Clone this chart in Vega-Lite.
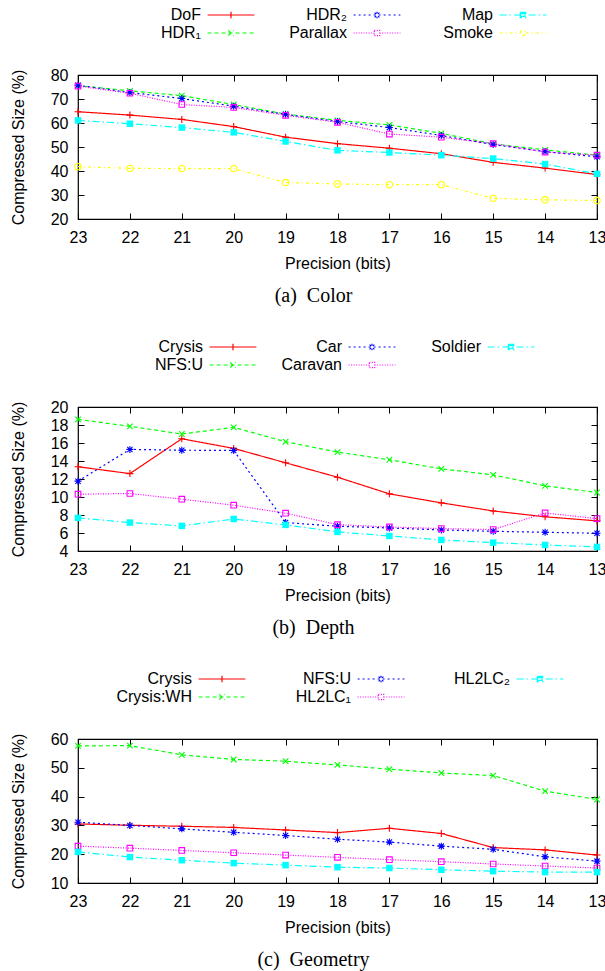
{
"$schema": "https://vega.github.io/schema/vega-lite/v6.json",
"padding": {"left": 9, "top": 6, "right": 0, "bottom": 0},
"background": "white",
"config": {
  "font": "Liberation Sans",
  "view": {"stroke": "black", "strokeWidth": 1.2},
  "axis": {"labelFont": "Liberation Sans", "labelFontSize": 16, "labelColor": "black", "titleFont": "Liberation Sans", "titleFontSize": 16, "titleFontWeight": "normal", "titleColor": "black", "tickColor": "black", "tickSize": -6, "tickWidth": 1, "domain": false, "grid": false, "labelFlush": false},
  "legend": {"labelFont": "Liberation Sans", "labelFontSize": 16, "labelColor": "black", "labelLimit": 0, "title": null, "orient": "none", "legendY": -68, "columns": 3, "gridAlign": "all", "rowPadding": 2, "padding": 0, "labelAlign": "right", "labelBaseline": "middle", "labelOffset": -38, "symbolSize": 36, "symbolStrokeWidth": 1.2, "symbolFillColor": "transparent", "symbolOpacity": 1},
  "title": {"font": "Liberation Serif", "fontSize": 20, "fontWeight": "normal", "color": "black"}
},
"datasets": {
"a": [
{"series":"DoF","bits":23,"size":64.7},{"series":"DoF","bits":22,"size":63.3},{"series":"DoF","bits":21,"size":61.5},{"series":"DoF","bits":20,"size":58.5},{"series":"DoF","bits":19,"size":54.1},{"series":"DoF","bits":18,"size":51.4},{"series":"DoF","bits":17,"size":49.5},{"series":"DoF","bits":16,"size":47.2},{"series":"DoF","bits":15,"size":43.6},{"series":"DoF","bits":14,"size":41.2},{"series":"DoF","bits":13,"size":38.5},
{"series":"HDR₁","bits":23,"size":75.6},{"series":"HDR₁","bits":22,"size":73.4},{"series":"HDR₁","bits":21,"size":71.4},{"series":"HDR₁","bits":20,"size":67.7},{"series":"HDR₁","bits":19,"size":63.7},{"series":"HDR₁","bits":18,"size":61.1},{"series":"HDR₁","bits":17,"size":59.2},{"series":"HDR₁","bits":16,"size":55.7},{"series":"HDR₁","bits":15,"size":51.3},{"series":"HDR₁","bits":14,"size":48.8},{"series":"HDR₁","bits":13,"size":46.6},
{"series":"HDR₂","bits":23,"size":75.7},{"series":"HDR₂","bits":22,"size":72.7},{"series":"HDR₂","bits":21,"size":70.2},{"series":"HDR₂","bits":20,"size":67.0},{"series":"HDR₂","bits":19,"size":63.6},{"series":"HDR₂","bits":18,"size":60.6},{"series":"HDR₂","bits":17,"size":58.1},{"series":"HDR₂","bits":16,"size":54.8},{"series":"HDR₂","bits":15,"size":51.0},{"series":"HDR₂","bits":14,"size":48.1},{"series":"HDR₂","bits":13,"size":45.9},
{"series":"Parallax","bits":23,"size":75.4},{"series":"Parallax","bits":22,"size":72.4},{"series":"Parallax","bits":21,"size":67.7},{"series":"Parallax","bits":20,"size":66.5},{"series":"Parallax","bits":19,"size":63.2},{"series":"Parallax","bits":18,"size":60.3},{"series":"Parallax","bits":17,"size":55.4},{"series":"Parallax","bits":16,"size":54.1},{"series":"Parallax","bits":15,"size":51.4},{"series":"Parallax","bits":14,"size":47.9},{"series":"Parallax","bits":13,"size":46.6},
{"series":"Map","bits":23,"size":61.1},{"series":"Map","bits":22,"size":59.7},{"series":"Map","bits":21,"size":58.1},{"series":"Map","bits":20,"size":56.1},{"series":"Map","bits":19,"size":52.3},{"series":"Map","bits":18,"size":48.6},{"series":"Map","bits":17,"size":47.7},{"series":"Map","bits":16,"size":46.6},{"series":"Map","bits":15,"size":45.2},{"series":"Map","bits":14,"size":42.9},{"series":"Map","bits":13,"size":38.8},
{"series":"Smoke","bits":23,"size":41.8},{"series":"Smoke","bits":22,"size":41.1},{"series":"Smoke","bits":21,"size":41.0},{"series":"Smoke","bits":20,"size":41.0},{"series":"Smoke","bits":19,"size":35.2},{"series":"Smoke","bits":18,"size":34.6},{"series":"Smoke","bits":17,"size":34.3},{"series":"Smoke","bits":16,"size":34.3},{"series":"Smoke","bits":15,"size":28.6},{"series":"Smoke","bits":14,"size":28.0},{"series":"Smoke","bits":13,"size":27.7}
],
"b": [
{"series":"Crysis","bits":23,"size":13.36},{"series":"Crysis","bits":22,"size":12.6},{"series":"Crysis","bits":21,"size":16.47},{"series":"Crysis","bits":20,"size":15.4},{"series":"Crysis","bits":19,"size":13.8},{"series":"Crysis","bits":18,"size":12.2},{"series":"Crysis","bits":17,"size":10.35},{"series":"Crysis","bits":16,"size":9.35},{"series":"Crysis","bits":15,"size":8.45},{"series":"Crysis","bits":14,"size":7.8},{"series":"Crysis","bits":13,"size":7.35},
{"series":"NFS:U","bits":23,"size":18.63},{"series":"NFS:U","bits":22,"size":17.85},{"series":"NFS:U","bits":21,"size":17.0},{"series":"NFS:U","bits":20,"size":17.74},{"series":"NFS:U","bits":19,"size":16.14},{"series":"NFS:U","bits":18,"size":14.99},{"series":"NFS:U","bits":17,"size":14.14},{"series":"NFS:U","bits":16,"size":13.13},{"series":"NFS:U","bits":15,"size":12.46},{"series":"NFS:U","bits":14,"size":11.24},{"series":"NFS:U","bits":13,"size":10.5},
{"series":"Car","bits":23,"size":11.76},{"series":"Car","bits":22,"size":15.29},{"series":"Car","bits":21,"size":15.2},{"series":"Car","bits":20,"size":15.17},{"series":"Car","bits":19,"size":7.16},{"series":"Car","bits":18,"size":6.75},{"series":"Car","bits":17,"size":6.56},{"series":"Car","bits":16,"size":6.34},{"series":"Car","bits":15,"size":6.19},{"series":"Car","bits":14,"size":6.08},{"series":"Car","bits":13,"size":5.97},
{"series":"Caravan","bits":23,"size":10.31},{"series":"Caravan","bits":22,"size":10.39},{"series":"Caravan","bits":21,"size":9.76},{"series":"Caravan","bits":20,"size":9.09},{"series":"Caravan","bits":19,"size":8.2},{"series":"Caravan","bits":18,"size":6.93},{"series":"Caravan","bits":17,"size":6.67},{"series":"Caravan","bits":16,"size":6.49},{"series":"Caravan","bits":15,"size":6.38},{"series":"Caravan","bits":14,"size":8.23},{"series":"Caravan","bits":13,"size":7.6},
{"series":"Soldier","bits":23,"size":7.68},{"series":"Soldier","bits":22,"size":7.16},{"series":"Soldier","bits":21,"size":6.79},{"series":"Soldier","bits":20,"size":7.56},{"series":"Soldier","bits":19,"size":6.9},{"series":"Soldier","bits":18,"size":6.12},{"series":"Soldier","bits":17,"size":5.67},{"series":"Soldier","bits":16,"size":5.23},{"series":"Soldier","bits":15,"size":4.93},{"series":"Soldier","bits":14,"size":4.67},{"series":"Soldier","bits":13,"size":4.45}
],
"c": [
{"series":"Crysis","bits":23,"size":30.5},{"series":"Crysis","bits":22,"size":30.05},{"series":"Crysis","bits":21,"size":29.7},{"series":"Crysis","bits":20,"size":29.3},{"series":"Crysis","bits":19,"size":28.4},{"series":"Crysis","bits":18,"size":27.5},{"series":"Crysis","bits":17,"size":29.0},{"series":"Crysis","bits":16,"size":27.2},{"series":"Crysis","bits":15,"size":22.3},{"series":"Crysis","bits":14,"size":21.5},{"series":"Crysis","bits":13,"size":19.7},
{"series":"Crysis:WH","bits":23,"size":57.6},{"series":"Crysis:WH","bits":22,"size":57.7},{"series":"Crysis:WH","bits":21,"size":54.5},{"series":"Crysis:WH","bits":20,"size":52.9},{"series":"Crysis:WH","bits":19,"size":52.3},{"series":"Crysis:WH","bits":18,"size":51.0},{"series":"Crysis:WH","bits":17,"size":49.5},{"series":"Crysis:WH","bits":16,"size":48.2},{"series":"Crysis:WH","bits":15,"size":47.3},{"series":"Crysis:WH","bits":14,"size":41.9},{"series":"Crysis:WH","bits":13,"size":39.0},
{"series":"NFS:U","bits":23,"size":31.1},{"series":"NFS:U","bits":22,"size":30.0},{"series":"NFS:U","bits":21,"size":28.8},{"series":"NFS:U","bits":20,"size":27.6},{"series":"NFS:U","bits":19,"size":26.5},{"series":"NFS:U","bits":18,"size":25.2},{"series":"NFS:U","bits":17,"size":24.2},{"series":"NFS:U","bits":16,"size":22.8},{"series":"NFS:U","bits":15,"size":21.7},{"series":"NFS:U","bits":14,"size":19.1},{"series":"NFS:U","bits":13,"size":17.6},
{"series":"HL2LC₁","bits":23,"size":22.8},{"series":"HL2LC₁","bits":22,"size":22.1},{"series":"HL2LC₁","bits":21,"size":21.3},{"series":"HL2LC₁","bits":20,"size":20.5},{"series":"HL2LC₁","bits":19,"size":19.7},{"series":"HL2LC₁","bits":18,"size":18.9},{"series":"HL2LC₁","bits":17,"size":18.1},{"series":"HL2LC₁","bits":16,"size":17.4},{"series":"HL2LC₁","bits":15,"size":16.6},{"series":"HL2LC₁","bits":14,"size":15.9},{"series":"HL2LC₁","bits":13,"size":15.2},
{"series":"HL2LC₂","bits":23,"size":20.8},{"series":"HL2LC₂","bits":22,"size":19.0},{"series":"HL2LC₂","bits":21,"size":17.9},{"series":"HL2LC₂","bits":20,"size":16.9},{"series":"HL2LC₂","bits":19,"size":16.2},{"series":"HL2LC₂","bits":18,"size":15.5},{"series":"HL2LC₂","bits":17,"size":15.2},{"series":"HL2LC₂","bits":16,"size":14.6},{"series":"HL2LC₂","bits":15,"size":14.1},{"series":"HL2LC₂","bits":14,"size":13.8},{"series":"HL2LC₂","bits":13,"size":13.8}
]
},
"vconcat": [
{
 "width": 519, "height": 144,
 "data": {"name": "a"},
 "title": {"text": "(a)\u2002Color", "orient": "bottom", "anchor": "middle", "frame": "group", "offset": 15, "dx": -24},
 "layer": [
  {"mark": {"type": "line", "strokeWidth": 1.2},
   "encoding": {
    "x": {"field": "bits", "type": "quantitative", "scale": {"domain": [13, 23], "reverse": true, "nice": false}, "axis": {"orient": "bottom", "values": [13,14,15,16,17,18,19,20,21,22,23], "format": "d", "title": "Precision (bits)", "labelPadding": 16, "titlePadding": 10}},
    "y": {"field": "size", "type": "quantitative", "scale": {"domain": [20, 80], "nice": false, "zero": false}, "axis": {"orient": "left", "values": [20,30,40,50,60,70,80], "title": "Compressed Size (%)", "labelPadding": 16, "titlePadding": 24}},
    "color": {"field": "series", "type": "nominal", "scale": {"domain": ["DoF","HDR₁","HDR₂","Parallax","Map","Smoke"], "range": ["#ff0000","#00ff00","#0000ff","#ff00ff","#00ffff","#ffff00"]}, "legend": {"legendX": 145, "columnPadding": 32}},
    "strokeDash": {"field": "series", "type": "nominal", "scale": {"domain": ["DoF","HDR₁","HDR₂","Parallax","Map","Smoke"], "range": [[1,0],[4,3],[2,3],[1,1.5],[7,3,1.5,3],[3,3,1,3]]}, "legend": {"legendX": 145, "columnPadding": 32}}
   }},
  {"mark": {"type": "point", "opacity": 0},
   "encoding": {
    "x": {"field": "bits", "type": "quantitative", "axis": {"orient": "top", "labels": false, "title": null, "values": [13,14,15,16,17,18,19,20,21,22,23]}},
    "y": {"field": "size", "type": "quantitative", "axis": {"orient": "right", "labels": false, "title": null, "values": [20,30,40,50,60,70,80]}},
    "color": {"field": "series", "type": "nominal"},
    "strokeDash": {"field": "series", "type": "nominal"},
    "shape": {"field": "series", "type": "nominal", "scale": {"domain": ["DoF","HDR₁","HDR₂","Parallax","Map","Smoke"], "range": ["M-7.8,0H7.8M0,-1.1V1.1","M-7.8,0H7.8M-0.9,-0.9L0.9,0.9M-0.9,0.9L0.9,-0.9","M-7.8,0H7.8M0,-1.1V1.1M-0.8,-0.8L0.8,0.8M-0.8,0.8L0.8,-0.8","M-7.8,0H-0.9M0.9,0H7.8M-0.9,-0.9H0.9V0.9H-0.9Z","M-7.8,0H7.8M-0.9,-0.9H0.9V0.9H-0.9ZM-0.9,-0.45H0.9M-0.9,0.45H0.9","M-7.8,0H-0.9M0.9,0H7.8M-0.9,0A0.9,0.9,0,1,1,0.9,0A0.9,0.9,0,1,1,-0.9,0Z"]}, "legend": {"legendX": 145, "columnPadding": 32}}
   }},
  {"transform": [{"filter": {"field": "series", "equal": "DoF"}}], "mark": {"type": "point", "filled": false, "shape": "M-1,0H1M0,-1V1", "size": 49, "strokeWidth": 1.1, "opacity": 1},
   "encoding": {"x": {"field": "bits", "type": "quantitative", "axis": null}, "y": {"field": "size", "type": "quantitative", "axis": null}, "color": {"field": "series", "type": "nominal"}}},
  {"transform": [{"filter": {"field": "series", "equal": "HDR₁"}}], "mark": {"type": "point", "filled": false, "shape": "M-0.8,-0.8L0.8,0.8M-0.8,0.8L0.8,-0.8", "size": 49, "strokeWidth": 1.1, "opacity": 1},
   "encoding": {"x": {"field": "bits", "type": "quantitative", "axis": null}, "y": {"field": "size", "type": "quantitative", "axis": null}, "color": {"field": "series", "type": "nominal"}}},
  {"transform": [{"filter": {"field": "series", "equal": "HDR₂"}}], "mark": {"type": "point", "filled": false, "shape": "M-1,0H1M0,-1V1M-0.75,-0.75L0.75,0.75M-0.75,0.75L0.75,-0.75", "size": 49, "strokeWidth": 1.1, "opacity": 1},
   "encoding": {"x": {"field": "bits", "type": "quantitative", "axis": null}, "y": {"field": "size", "type": "quantitative", "axis": null}, "color": {"field": "series", "type": "nominal"}}},
  {"transform": [{"filter": {"field": "series", "equal": "Parallax"}}], "mark": {"type": "point", "filled": false, "shape": "M-0.8,-0.8H0.8V0.8H-0.8Z", "size": 49, "strokeWidth": 1.1, "opacity": 1},
   "encoding": {"x": {"field": "bits", "type": "quantitative", "axis": null}, "y": {"field": "size", "type": "quantitative", "axis": null}, "color": {"field": "series", "type": "nominal"}}},
  {"transform": [{"filter": {"field": "series", "equal": "Map"}}], "mark": {"type": "point", "filled": true, "shape": "square", "size": 42, "opacity": 1, "color": "#00ffff"},
   "encoding": {"x": {"field": "bits", "type": "quantitative", "axis": null}, "y": {"field": "size", "type": "quantitative", "axis": null}}},
  {"transform": [{"filter": {"field": "series", "equal": "Smoke"}}], "mark": {"type": "point", "filled": false, "shape": "circle", "size": 40, "strokeWidth": 1.1, "opacity": 1},
   "encoding": {"x": {"field": "bits", "type": "quantitative", "axis": null}, "y": {"field": "size", "type": "quantitative", "axis": null}, "color": {"field": "series", "type": "nominal"}}}
 ],
 "resolve": {"axis": {"x": "independent", "y": "independent"}}
},
{
 "width": 519, "height": 144,
 "data": {"name": "b"},
 "title": {"text": "(b)\u2002Depth", "orient": "bottom", "anchor": "middle", "frame": "group", "offset": 15, "dx": -24},
 "layer": [
  {"mark": {"type": "line", "strokeWidth": 1.2},
   "encoding": {
    "x": {"field": "bits", "type": "quantitative", "scale": {"domain": [13, 23], "reverse": true, "nice": false}, "axis": {"orient": "bottom", "values": [13,14,15,16,17,18,19,20,21,22,23], "format": "d", "title": "Precision (bits)", "labelPadding": 16, "titlePadding": 10}},
    "y": {"field": "size", "type": "quantitative", "scale": {"domain": [4, 20], "nice": false, "zero": false}, "axis": {"orient": "left", "values": [4,6,8,10,12,14,16,18,20], "title": "Compressed Size (%)", "labelPadding": 16, "titlePadding": 24}},
    "color": {"field": "series", "type": "nominal", "scale": {"domain": ["Crysis","NFS:U","Car","Caravan","Soldier"], "range": ["#ff0000","#00ff00","#0000ff","#ff00ff","#00ffff"]}, "legend": {"legendX": 147, "columnPadding": 22}},
    "strokeDash": {"field": "series", "type": "nominal", "scale": {"domain": ["Crysis","NFS:U","Car","Caravan","Soldier"], "range": [[1,0],[4,3],[2,3],[1,1.5],[7,3,1.5,3]]}, "legend": {"legendX": 147, "columnPadding": 22}}
   }},
  {"mark": {"type": "point", "opacity": 0},
   "encoding": {
    "x": {"field": "bits", "type": "quantitative", "axis": {"orient": "top", "labels": false, "title": null, "values": [13,14,15,16,17,18,19,20,21,22,23]}},
    "y": {"field": "size", "type": "quantitative", "axis": {"orient": "right", "labels": false, "title": null, "values": [4,6,8,10,12,14,16,18,20]}},
    "color": {"field": "series", "type": "nominal"},
    "strokeDash": {"field": "series", "type": "nominal"},
    "shape": {"field": "series", "type": "nominal", "scale": {"domain": ["Crysis","NFS:U","Car","Caravan","Soldier"], "range": ["M-7.8,0H7.8M0,-1.1V1.1","M-7.8,0H7.8M-0.9,-0.9L0.9,0.9M-0.9,0.9L0.9,-0.9","M-7.8,0H7.8M0,-1.1V1.1M-0.8,-0.8L0.8,0.8M-0.8,0.8L0.8,-0.8","M-7.8,0H-0.9M0.9,0H7.8M-0.9,-0.9H0.9V0.9H-0.9Z","M-7.8,0H7.8M-0.9,-0.9H0.9V0.9H-0.9ZM-0.9,-0.45H0.9M-0.9,0.45H0.9"]}, "legend": {"legendX": 147, "columnPadding": 22}}
   }},
  {"transform": [{"filter": {"field": "series", "equal": "Crysis"}}], "mark": {"type": "point", "filled": false, "shape": "M-1,0H1M0,-1V1", "size": 49, "strokeWidth": 1.1, "opacity": 1},
   "encoding": {"x": {"field": "bits", "type": "quantitative", "axis": null}, "y": {"field": "size", "type": "quantitative", "axis": null}, "color": {"field": "series", "type": "nominal"}}},
  {"transform": [{"filter": {"field": "series", "equal": "NFS:U"}}], "mark": {"type": "point", "filled": false, "shape": "M-0.8,-0.8L0.8,0.8M-0.8,0.8L0.8,-0.8", "size": 49, "strokeWidth": 1.1, "opacity": 1},
   "encoding": {"x": {"field": "bits", "type": "quantitative", "axis": null}, "y": {"field": "size", "type": "quantitative", "axis": null}, "color": {"field": "series", "type": "nominal"}}},
  {"transform": [{"filter": {"field": "series", "equal": "Car"}}], "mark": {"type": "point", "filled": false, "shape": "M-1,0H1M0,-1V1M-0.75,-0.75L0.75,0.75M-0.75,0.75L0.75,-0.75", "size": 49, "strokeWidth": 1.1, "opacity": 1},
   "encoding": {"x": {"field": "bits", "type": "quantitative", "axis": null}, "y": {"field": "size", "type": "quantitative", "axis": null}, "color": {"field": "series", "type": "nominal"}}},
  {"transform": [{"filter": {"field": "series", "equal": "Caravan"}}], "mark": {"type": "point", "filled": false, "shape": "M-0.8,-0.8H0.8V0.8H-0.8Z", "size": 49, "strokeWidth": 1.1, "opacity": 1},
   "encoding": {"x": {"field": "bits", "type": "quantitative", "axis": null}, "y": {"field": "size", "type": "quantitative", "axis": null}, "color": {"field": "series", "type": "nominal"}}},
  {"transform": [{"filter": {"field": "series", "equal": "Soldier"}}], "mark": {"type": "point", "filled": true, "shape": "square", "size": 42, "opacity": 1, "color": "#00ffff"},
   "encoding": {"x": {"field": "bits", "type": "quantitative", "axis": null}, "y": {"field": "size", "type": "quantitative", "axis": null}}}
 ],
 "resolve": {"axis": {"x": "independent", "y": "independent"}}
},
{
 "width": 519, "height": 144,
 "data": {"name": "c"},
 "title": {"text": "(c)\u2002Geometry", "orient": "bottom", "anchor": "middle", "frame": "group", "offset": 15, "dx": -24},
 "layer": [
  {"mark": {"type": "line", "strokeWidth": 1.2},
   "encoding": {
    "x": {"field": "bits", "type": "quantitative", "scale": {"domain": [13, 23], "reverse": true, "nice": false}, "axis": {"orient": "bottom", "values": [13,14,15,16,17,18,19,20,21,22,23], "format": "d", "title": "Precision (bits)", "labelPadding": 16, "titlePadding": 10}},
    "y": {"field": "size", "type": "quantitative", "scale": {"domain": [10, 60], "nice": false, "zero": false}, "axis": {"orient": "left", "values": [10,20,30,40,50,60], "title": "Compressed Size (%)", "labelPadding": 16, "titlePadding": 24}},
    "color": {"field": "series", "type": "nominal", "scale": {"domain": ["Crysis","Crysis:WH","NFS:U","HL2LC₁","HL2LC₂"], "range": ["#ff0000","#00ff00","#0000ff","#ff00ff","#00ffff"]}, "legend": {"legendX": 136, "columnPadding": 46}},
    "strokeDash": {"field": "series", "type": "nominal", "scale": {"domain": ["Crysis","Crysis:WH","NFS:U","HL2LC₁","HL2LC₂"], "range": [[1,0],[4,3],[2,3],[1,1.5],[7,3,1.5,3]]}, "legend": {"legendX": 136, "columnPadding": 46}}
   }},
  {"mark": {"type": "point", "opacity": 0},
   "encoding": {
    "x": {"field": "bits", "type": "quantitative", "axis": {"orient": "top", "labels": false, "title": null, "values": [13,14,15,16,17,18,19,20,21,22,23]}},
    "y": {"field": "size", "type": "quantitative", "axis": {"orient": "right", "labels": false, "title": null, "values": [10,20,30,40,50,60]}},
    "color": {"field": "series", "type": "nominal"},
    "strokeDash": {"field": "series", "type": "nominal"},
    "shape": {"field": "series", "type": "nominal", "scale": {"domain": ["Crysis","Crysis:WH","NFS:U","HL2LC₁","HL2LC₂"], "range": ["M-7.8,0H7.8M0,-1.1V1.1","M-7.8,0H7.8M-0.9,-0.9L0.9,0.9M-0.9,0.9L0.9,-0.9","M-7.8,0H7.8M0,-1.1V1.1M-0.8,-0.8L0.8,0.8M-0.8,0.8L0.8,-0.8","M-7.8,0H-0.9M0.9,0H7.8M-0.9,-0.9H0.9V0.9H-0.9Z","M-7.8,0H7.8M-0.9,-0.9H0.9V0.9H-0.9ZM-0.9,-0.45H0.9M-0.9,0.45H0.9"]}, "legend": {"legendX": 136, "columnPadding": 46}}
   }},
  {"transform": [{"filter": {"field": "series", "equal": "Crysis"}}], "mark": {"type": "point", "filled": false, "shape": "M-1,0H1M0,-1V1", "size": 49, "strokeWidth": 1.1, "opacity": 1},
   "encoding": {"x": {"field": "bits", "type": "quantitative", "axis": null}, "y": {"field": "size", "type": "quantitative", "axis": null}, "color": {"field": "series", "type": "nominal"}}},
  {"transform": [{"filter": {"field": "series", "equal": "Crysis:WH"}}], "mark": {"type": "point", "filled": false, "shape": "M-0.8,-0.8L0.8,0.8M-0.8,0.8L0.8,-0.8", "size": 49, "strokeWidth": 1.1, "opacity": 1},
   "encoding": {"x": {"field": "bits", "type": "quantitative", "axis": null}, "y": {"field": "size", "type": "quantitative", "axis": null}, "color": {"field": "series", "type": "nominal"}}},
  {"transform": [{"filter": {"field": "series", "equal": "NFS:U"}}], "mark": {"type": "point", "filled": false, "shape": "M-1,0H1M0,-1V1M-0.75,-0.75L0.75,0.75M-0.75,0.75L0.75,-0.75", "size": 49, "strokeWidth": 1.1, "opacity": 1},
   "encoding": {"x": {"field": "bits", "type": "quantitative", "axis": null}, "y": {"field": "size", "type": "quantitative", "axis": null}, "color": {"field": "series", "type": "nominal"}}},
  {"transform": [{"filter": {"field": "series", "equal": "HL2LC₁"}}], "mark": {"type": "point", "filled": false, "shape": "M-0.8,-0.8H0.8V0.8H-0.8Z", "size": 49, "strokeWidth": 1.1, "opacity": 1},
   "encoding": {"x": {"field": "bits", "type": "quantitative", "axis": null}, "y": {"field": "size", "type": "quantitative", "axis": null}, "color": {"field": "series", "type": "nominal"}}},
  {"transform": [{"filter": {"field": "series", "equal": "HL2LC₂"}}], "mark": {"type": "point", "filled": true, "shape": "square", "size": 42, "opacity": 1, "color": "#00ffff"},
   "encoding": {"x": {"field": "bits", "type": "quantitative", "axis": null}, "y": {"field": "size", "type": "quantitative", "axis": null}}}
 ],
 "resolve": {"axis": {"x": "independent", "y": "independent"}}
}
],
"spacing": 188,
"bounds": "flush",
"resolve": {"scale": {"color": "independent", "strokeDash": "independent", "shape": "independent", "x": "independent", "y": "independent"}, "legend": {"color": "independent", "strokeDash": "independent", "shape": "independent"}}
}
